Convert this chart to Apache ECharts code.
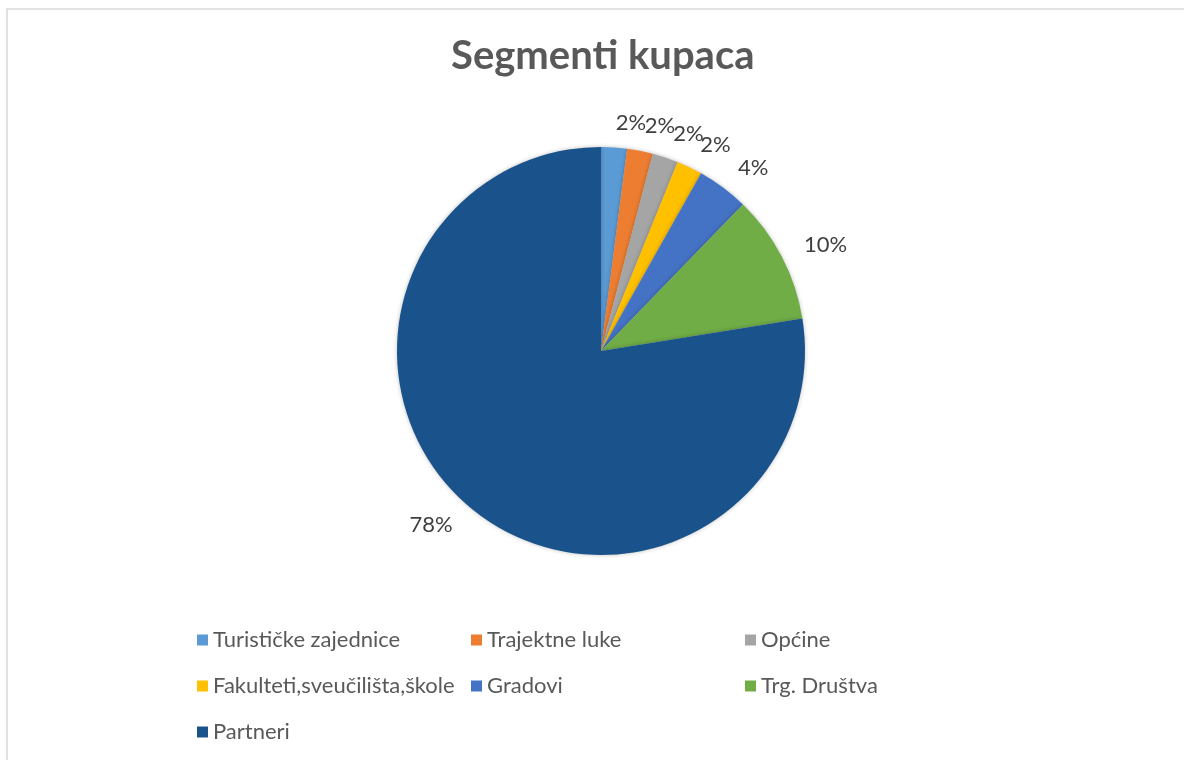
<!DOCTYPE html>
<html>
<head>
<meta charset="utf-8">
<script src="https://cdn.jsdelivr.net/npm/echarts@6/dist/echarts.min.js"></script>
<style>
  html, body { margin: 0; padding: 0; background: #fff; }
  #chart { width: 1184px; height: 760px; }
</style>
</head>
<body>
<div id="chart"></div>
<script>
// segmenti i broj kupaca
const categories = ['Turističke zajednice', 'Trajektne luke', 'Općine',
  'Fakulteti,sveučilišta,škole', 'Gradovi', 'Trg. Društva', 'Partneri'];
const values = [1, 1, 1, 1, 2, 5, 38];
const colors = ['#5b9bd5', '#ed7d31', '#a5a5a5', '#ffc000', '#4472c4', '#70ad47', '#1a538b'];

const chart = echarts.init(document.getElementById('chart'));

const pieData = categories.map((name, i) => ({
  name: name,
  value: values[i],
  itemStyle: { color: colors[i] }
}));

const option = {
  backgroundColor: '#fff',
  animation: false,
  title: {
    text: 'Segmenti kupaca',
    left: 446,
    top: 31,
    textStyle: { fontFamily: 'Lato', fontSize: 40, fontWeight: 'bold', color: '#595959' }
  },
  graphic: [{
    type: 'rect',
    shape: { x: 7, y: 9, width: 1200, height: 800 },
    style: { fill: 'none', stroke: '#d9d9d9', lineWidth: 1.5 },
    silent: true
  }],
  legend: {
    data: categories,
    left: 197,
    top: 617,
    width: 840,
    padding: 0,
    itemGap: 0,
    itemWidth: 11,
    itemHeight: 11,
    icon: 'rect',
    textStyle: {
      fontFamily: 'Lato', fontSize: 22, color: '#595959',
      width: 258, lineHeight: 46
    }
  },
  series: [
    {
      type: 'pie',
      center: [601, 351],
      radius: 204,
      startAngle: 90,
      percentPrecision: 0,
      avoidLabelOverlap: false,
      labelLayout: { hideOverlap: false },
      label: {
        show: true,
        position: 'outside',
        formatter: '{d}%',
        distanceToLabelLine: 0,
        fontFamily: 'Lato', fontSize: 22, color: '#404040'
      },
      labelLine: { show: false, length: 25, length2: 0 },
      itemStyle: { shadowBlur: 4, shadowColor: 'rgba(0,0,0,0.25)' },
      data: pieData
    }
  ]
};

chart.setOption(option);
</script>
</body>
</html>
